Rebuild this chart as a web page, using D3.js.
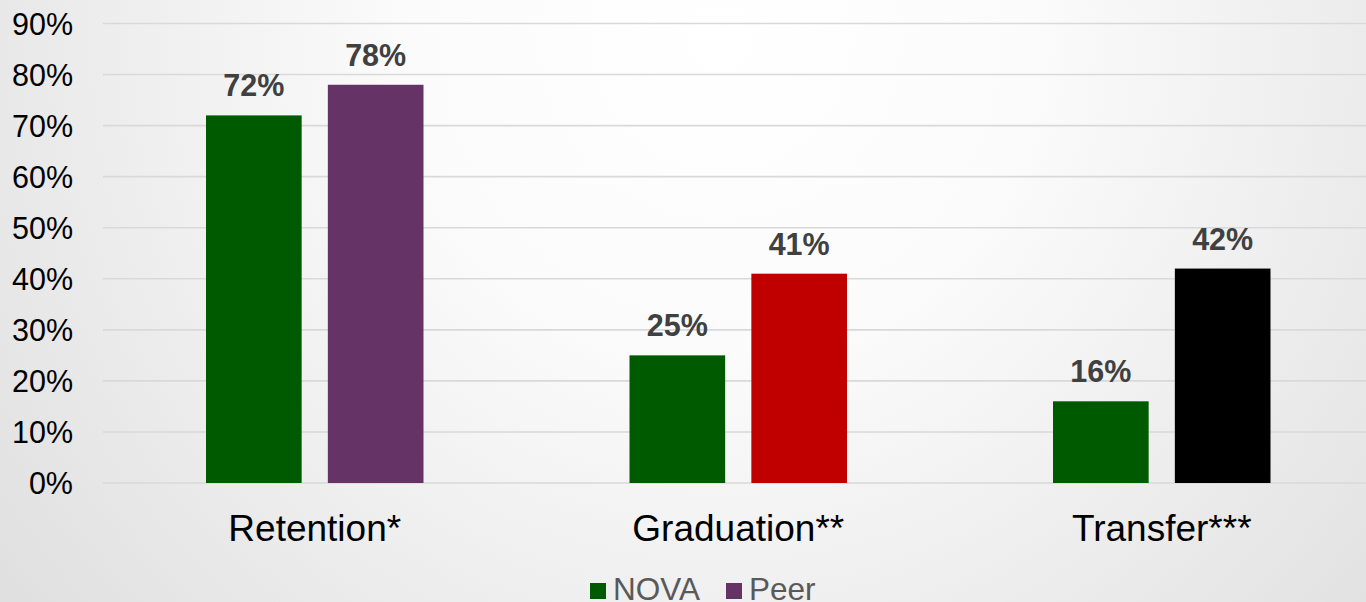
<!DOCTYPE html>
<html>
<head>
<meta charset="utf-8">
<script src="https://cdn.jsdelivr.net/npm/d3@7"></script>
<style>
html,body{margin:0;padding:0;overflow:hidden;}
svg{display:block;font-family:"Liberation Sans",Arial,sans-serif;}
</style>
</head>
<body>
<svg id="chart" width="1366" height="602"></svg>
<script>
const categories = ["Retention*", "Graduation**", "Transfer***"];
const novaValues = [72, 25, 16];
const peerValues = [78, 41, 42];
const peerColors = ["#663366", "#C00000", "#000000"];
const novaColor = "#005A00";
const yTicks = [0, 10, 20, 30, 40, 50, 60, 70, 80, 90];
const seriesNames = ["NOVA", "Peer"];

const W = 1366, H = 602;
const svg = d3.select("#chart");

const defs = svg.append("defs");
const grad = defs.append("radialGradient").attr("id", "bg")
  .attr("gradientUnits", "userSpaceOnUse")
  .attr("cx", 720).attr("cy", 40).attr("r", 900);
grad.append("stop").attr("offset", "0%").attr("stop-color", "#ffffff");
grad.append("stop").attr("offset", "35%").attr("stop-color", "#fbfbfb");
grad.append("stop").attr("offset", "100%").attr("stop-color", "#e0e0e0");
svg.append("rect").attr("width", W).attr("height", H).attr("fill", "url(#bg)");

const x0 = d3.scaleBand().domain(categories).range([103, 1373.5]).paddingInner(0).paddingOuter(0);
const x1 = d3.scaleBand().domain(seriesNames).range([103, x0.bandwidth() - 103]).paddingInner(0.215);
const y = d3.scaleLinear().domain([0, 90]).range([483, 23.5]);

// gridlines
svg.append("g").selectAll("line").data(yTicks).join("line")
  .attr("x1", 103).attr("x2", W)
  .attr("y1", d => y(d)).attr("y2", d => y(d))
  .attr("stroke", "#d9d9d9").attr("stroke-width", 1.6);

// y axis labels
const yAxis = d3.axisLeft(y).tickValues(yTicks).tickFormat(d => d + "%").tickSize(0).tickPadding(0);
const ya = svg.append("g").attr("transform", "translate(73,0)").call(yAxis);
ya.select(".domain").remove();
ya.selectAll("text").attr("font-size", 30.5).attr("fill", "#000")
  .attr("font-family", "Liberation Sans, Arial, sans-serif").attr("dy", "0.36em");

// bars
const groups = svg.append("g").selectAll("g").data(categories).join("g")
  .attr("transform", d => `translate(${x0(d)},0)`);

groups.each(function(cat, i) {
  const g = d3.select(this);
  const data = [
    {s: "NOVA", v: novaValues[i], c: novaColor},
    {s: "Peer", v: peerValues[i], c: peerColors[i]}
  ];
  g.selectAll("rect").data(data).join("rect")
    .attr("x", d => x1(d.s)).attr("width", x1.bandwidth())
    .attr("y", d => y(d.v)).attr("height", d => y(0) - y(d.v))
    .attr("fill", d => d.c);
  g.selectAll("text").data(data).join("text")
    .attr("x", d => x1(d.s) + x1.bandwidth() / 2)
    .attr("y", d => y(d.v) - 19)
    .attr("text-anchor", "middle")
    .attr("font-size", 30.5).attr("font-weight", "bold").attr("fill", "#404040")
    .text(d => d.v + "%");
});

// category labels
const xAxis = d3.axisBottom(x0).tickSize(0).tickPadding(0);
const xa = svg.append("g").attr("transform", "translate(0,541)").call(xAxis);
xa.select(".domain").remove();
xa.selectAll("text").attr("font-size", 37).attr("fill", "#000").attr("dy", 0)
  .attr("font-family", "Liberation Sans, Arial, sans-serif");

// legend
const legend = svg.append("g");
const legendItems = [
  {name: seriesNames[0], color: novaColor, x: 590},
  {name: seriesNames[1], color: peerColors[0], x: 726}
];
legendItems.forEach(it => {
  legend.append("rect").attr("x", it.x).attr("y", 583).attr("width", 16).attr("height", 16).attr("fill", it.color);
  legend.append("text").attr("x", it.x + 23).attr("y", 600)
    .attr("font-size", 31.5).attr("fill", "#595959").text(it.name);
});
</script>
</body>
</html>
